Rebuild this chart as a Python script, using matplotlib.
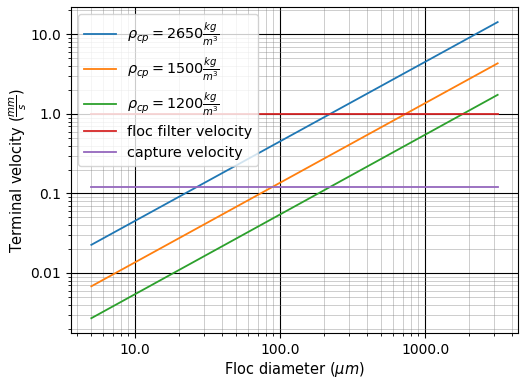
import matplotlib
matplotlib.use("Agg")
import matplotlib.pyplot as plt
from matplotlib.ticker import StrMethodFormatter

diameters = [5, 3162]
v_2650 = [0.0226, 14.3]
v_1500 = [0.0068, 4.33]
v_1200 = [0.0027, 1.74]
floc_filter_velocity = [1.0, 1.0]
capture_velocity = [0.12, 0.12]

labels = [r"$\rho_{cp} = 2650\frac{kg}{m^3}$",
          r"$\rho_{cp} = 1500\frac{kg}{m^3}$",
          r"$\rho_{cp} = 1200\frac{kg}{m^3}$",
          "floc filter velocity",
          "capture velocity"]

fig = plt.figure(figsize=(5.24, 3.83), dpi=100)
ax = fig.add_axes([0.1355, 0.1305, 0.853, 0.8505])
for y, lab in zip([v_2650, v_1500, v_1200, floc_filter_velocity, capture_velocity], labels):
    ax.plot(diameters, y, label=lab, lw=1.3)
ax.set_xscale("log")
ax.set_yscale("log")
ax.xaxis.set_major_formatter(StrMethodFormatter("{x}"))
ax.yaxis.set_major_formatter(StrMethodFormatter("{x}"))
ax.grid(which="major", color="black", lw=0.8)
ax.grid(which="minor", color="gray", lw=0.6, alpha=0.45)
ax.tick_params(labelsize=10)
ax.set_xlabel(r"Floc diameter ($\mu m$)", fontsize=10.5, labelpad=2)
ax.set_ylabel(r"Terminal velocity $(\frac{mm}{s})$", fontsize=10.5, labelpad=1)
ax.legend(loc="upper left", fontsize=10.4, handlelength=2.2)
fig.savefig("out.png", dpi=100)
